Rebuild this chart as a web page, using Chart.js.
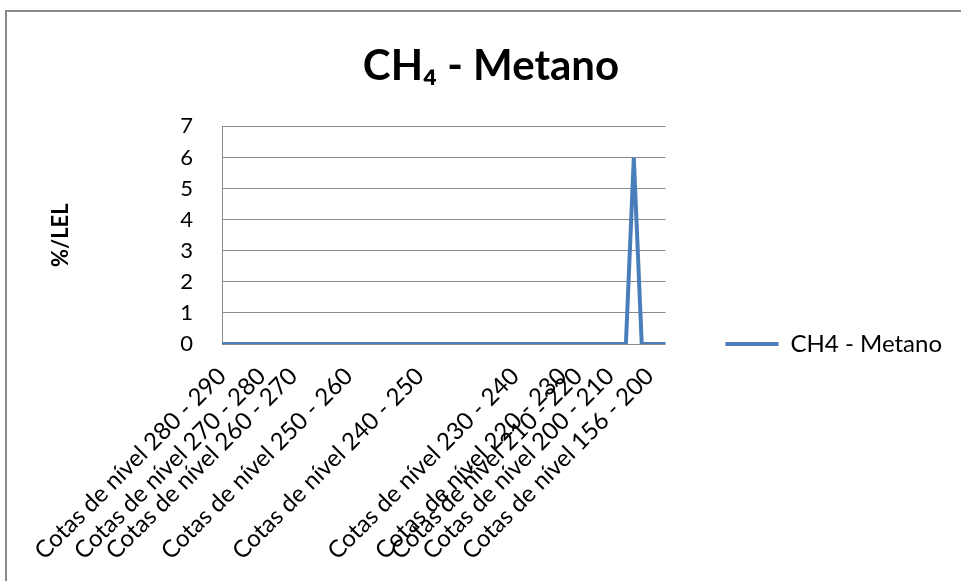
<!DOCTYPE html>
<html>
<head>
<meta charset="utf-8">
<script src="https://cdn.jsdelivr.net/npm/chart.js@4.4.0/dist/chart.umd.min.js"></script>
<style>
  html, body { margin: 0; padding: 0; background: #fff; }
  canvas { display: block; }
</style>
</head>
<body>
<canvas id="chart" width="961" height="581"></canvas>
<script>
// Categorias do eixo X (só algumas têm rótulo, como na planilha)
const categories = [
  'Cotas de nível 280 - 290', '', '', '', '',
  'Cotas de nível 270 - 280', '', '', '',
  'Cotas de nível 260 - 270', '', '', '', '', '', '',
  'Cotas de nível 250 - 260', '', '', '', '', '', '', '', '',
  'Cotas de nível 240 - 250', '', '', '', '', '', '', '', '', '', '', '',
  'Cotas de nível 230 - 240', '', '', '', '', '',
  'Cotas de nível 220 - 230', '',
  'Cotas de nível 210 - 220', '', '', '',
  'Cotas de nível 200 - 210', '', '', '', '',
  'Cotas de nível 156 - 200', '', ''
]

// Valores de metano (%/LEL)
const metano = [
  0, 0, 0, 0, 0,
  0, 0, 0, 0,
  0, 0, 0, 0, 0, 0, 0,
  0, 0, 0, 0, 0, 0, 0, 0, 0,
  0, 0, 0, 0, 0, 0, 0, 0, 0, 0, 0, 0,
  0, 0, 0, 0, 0, 0,
  0, 0,
  0, 0, 0, 0,
  0, 0, 0, 6, 0,
  0, 0, 0
]

const yTicks = [0, 1, 2, 3, 4, 5, 6, 7]

const FONT = 'Lato, "Open Sans", sans-serif'

// Moldura cinza do gráfico (como no Excel)
const frame = {
  id: 'frame',
  beforeDraw(chart) {
    const ctx = chart.ctx
    ctx.save()
    ctx.fillStyle = '#fff'
    ctx.fillRect(0, 0, chart.width, chart.height)
    ctx.strokeStyle = '#8a8a8a'
    ctx.lineWidth = 2
    ctx.strokeRect(6, 11, 1000, 1000)
    ctx.restore()
  }
}

const ctx = document.getElementById('chart').getContext('2d')
new Chart(ctx, {
  type: 'line',
  data: {
    labels: categories,
    datasets: [{
      label: 'CH4 - Metano',
      data: metano,
      borderColor: '#4a7ebb',
      backgroundColor: '#4a7ebb',
      borderWidth: 4,
      pointRadius: 0,
      tension: 0
    }]
  },
  plugins: [frame],
  options: {
    responsive: false,
    animation: false,
    layout: { padding: { left: 30, right: 9, top: 0, bottom: 0 } },
    plugins: {
      title: {
        display: true,
        text: 'CH₄ - Metano',
        color: '#000',
        font: { family: FONT, size: 42, weight: 'bold' },
        padding: { top: 41, bottom: 35 }
      },
      legend: {
        position: 'right',
        maxWidth: 400,
        // título vazio só para descer a legenda até a linha do zero
        title: { display: true, text: ' ', font: { size: 6 }, padding: { top: 50, bottom: 50 } },
        labels: {
          usePointStyle: true,
          pointStyle: 'line',
          pointStyleWidth: 53,
          boxHeight: 4,
          padding: 60,
          color: '#000',
          font: { family: FONT, size: 24 }
        }
      },
      tooltip: { enabled: false }
    },
    scales: {
      x: {
        grid: { display: false, drawTicks: false },
        border: { display: false },
        ticks: {
          autoSkip: false,
          minRotation: 45,
          maxRotation: 45,
          padding: 18,
          color: '#000',
          font: { family: FONT, size: 24 }
        },
        afterFit: scale => { scale.height = 237 }
      },
      y: {
        min: 0,
        max: 7,
        afterBuildTicks: scale => { scale.ticks = yTicks.map(v => ({ value: v })) },
        ticks: {
          padding: 29,
          color: '#000',
          font: { family: FONT, size: 22 }
        },
        grid: { color: '#8a8a8a', drawTicks: false },
        border: { color: '#8a8a8a' },
        title: {
          display: true,
          text: '%/LEL',
          color: '#000',
          font: { family: FONT, size: 22, weight: 'bold' },
          padding: { top: 18 }
        },
        afterFit: scale => { scale.width = 192 }
      }
    }
  }
})
</script>
</body>
</html>
